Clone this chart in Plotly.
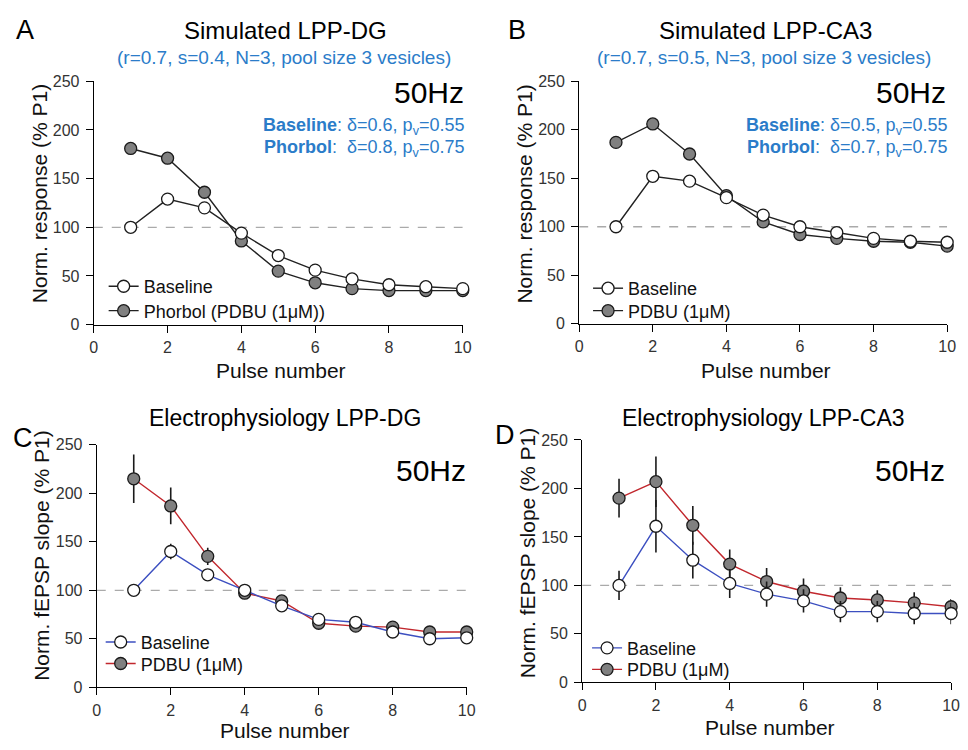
import plotly.graph_objects as go

W, H = 968, 750

pulses = [1, 2, 3, 4, 5, 6, 7, 8, 9, 10]
x_ticks = [0, 2, 4, 6, 8, 10]
y_ticks = [0, 50, 100, 150, 200, 250]
ref_level = 100

# Panel A - simulated LPP-DG
a_base = [100, 129, 120, 94, 71, 56, 47, 41, 39, 37]
a_phor = [181, 171, 136, 86, 55, 43, 37, 35, 35, 35]
# Panel B - simulated LPP-CA3
b_base = [100, 152, 147, 130, 112, 100, 94, 88, 85, 84]
b_pdbu = [187, 206, 175, 132, 105, 92, 88, 85, 84, 80]
# Panel C - electrophysiology LPP-DG
c_base = [100, 140, 116, 100, 84, 70, 67, 57, 50, 51]
c_base_err = [0, 8, 5, 5, 4, 3, 3, 3, 3, 3]
c_pdbu = [215, 187, 135, 97, 89, 66, 63, 62, 57, 57]
c_pdbu_err = [25, 19, 9, 6, 5, 3, 3, 3, 3, 3]
# Panel D - electrophysiology LPP-CA3
d_base = [100, 161, 126, 102, 91, 84, 73, 73, 71, 71]
d_base_err = [15, 27, 19, 15, 13, 12, 11, 11, 11, 11]
d_pdbu = [190, 207, 162, 122, 104, 94, 87, 85, 82, 78]
d_pdbu_err = [20, 26, 20, 15, 14, 13, 11, 10, 11, 8]

FONT = "Liberation Sans, Arial, sans-serif"
BLUE_TXT = "#2b7cc9"
LINE_BLUE = "#3c4fc0"
LINE_RED = "#c1272d"
GRAY = "#808080"
EDGE = "#1a1a1a"


def px(x):
    return x / W


def py(y):
    return 1 - y / H


fig = go.Figure()


def add_pair(xa, ya, base, treat, base_name, treat_name, leg_b, leg_t, base_line, treat_line,
             base_err=None, treat_err=None):
    err_t = dict(type="data", array=treat_err, visible=True, color=EDGE,
                 thickness=1.6, width=0) if treat_err else None
    err_b = dict(type="data", array=base_err, visible=True, color=EDGE,
                 thickness=1.6, width=0) if base_err else None
    fig.add_trace(go.Scatter(
        x=pulses, y=treat, xaxis=xa, yaxis=ya, mode="lines+markers", name=treat_name,
        legend=leg_t, cliponaxis=False,
        line=dict(color=treat_line, width=1.4),
        marker=dict(size=12, color=GRAY, line=dict(color=EDGE, width=1.3)),
        error_y=err_t))
    fig.add_trace(go.Scatter(
        x=pulses, y=base, xaxis=xa, yaxis=ya, mode="lines+markers", name=base_name,
        legend=leg_b, cliponaxis=False,
        line=dict(color=base_line, width=1.4),
        marker=dict(size=12, color="white", line=dict(color=EDGE, width=1.3)),
        error_y=err_b))


add_pair("x", "y", a_base, a_phor, "Baseline", "Phorbol (PDBU (1\u03bcM))", "legend", "legend2",
         "#222222", "#222222")
add_pair("x2", "y2", b_base, b_pdbu, "Baseline", "PDBU (1\u03bcM)", "legend3", "legend4",
         "#222222", "#222222")
add_pair("x3", "y3", c_base, c_pdbu, "Baseline", "PDBU (1\u03bcM)", "legend5", "legend6",
         LINE_BLUE, LINE_RED, c_base_err, c_pdbu_err)
add_pair("x4", "y4", d_base, d_pdbu, "Baseline", "PDBU (1\u03bcM)", "legend7", "legend8",
         LINE_BLUE, LINE_RED, d_base_err, d_pdbu_err)

# panel pixel boxes: (x0, x10, y250, y0)
boxes = {
    "1": (91, 465, 75, 324),
    "2": (583, 956, 75, 323),
    "3": (94, 469, 447, 695),
    "4": (586, 960, 442, 690),
}
ytitles = {"1": "Norm. response (% P1)", "2": "Norm. response (% P1)",
           "3": "Norm. fEPSP slope (% P1)", "4": "Norm. fEPSP slope (% P1)"}
# axis-title pixel positions: (y-title x, y-title y, x-title y)
title_pos = {"1": (36, 190, 371), "2": (528, 190, 371),
             "3": (38, 560, 739), "4": (531, 557, 736)}

axis_common = dict(showline=True, linecolor="black", linewidth=1.2, ticks="outside",
                   ticklen=7, tickcolor="black", tickwidth=1.2,
                   tickfont=dict(size=16, color="#333333", family=FONT),
                   showgrid=False, zeroline=False, fixedrange=True)

ann = []


def text(x, y, s, size, color="black", xanchor="center", yanchor="middle", angle=0):
    ann.append(dict(x=px(x), y=py(y), xref="paper", yref="paper", text=s, showarrow=False,
                    xanchor=xanchor, yanchor=yanchor, textangle=angle,
                    font=dict(size=size, color=color, family=FONT)))


layout_axes = {}
for k, (x0, x1, yt, yb) in boxes.items():
    suffix = "" if k == "1" else k
    layout_axes["xaxis" + suffix] = dict(
        domain=[px(x0), px(x1)], anchor="y" + suffix, range=[0, 10], tickvals=x_ticks,
        ticklabelstandoff=1, **axis_common)
    layout_axes["yaxis" + suffix] = dict(
        domain=[py(yb), py(yt)], anchor="x" + suffix, range=[0, 250], tickvals=y_ticks,
        ticklabelstandoff=3, **axis_common)
    tx, ty, xty = title_pos[k]
    text(tx, ty, ytitles[k], 21, "#111", angle=-90)
    text((x0 + x1) / 2 + 3, xty, "Pulse number", 21, "#111")

shapes = []
for k in boxes:
    suffix = "" if k == "1" else k
    shapes.append(dict(type="line", xref="x" + suffix, yref="y" + suffix, x0=0, x1=10,
                       y0=ref_level, y1=ref_level, layer="below",
                       line=dict(color="#aaaaaa", width=1.3, dash="dash")))

NB = "\u00a0"
# panel letters
text(21, 23, "A", 27)
text(520, 23, "B", 27)
text(19, 440, "C", 27)
text(508, 437, "D", 27)
# titles
text(285, 23, "Simulated LPP-DG", 24)
text(772, 23, "Simulated LPP-CA3", 24)
text(284, 51, "(r=0.7, s=0.4, N=3, pool size 3 vesicles)", 19, BLUE_TXT)
text(770, 51, "(r=0.7, s=0.5, N=3, pool size 3 vesicles)", 19, BLUE_TXT)
text(285, 420, "Electrophysiology LPP-DG", 23)
text(770, 420, "Electrophysiology LPP-CA3", 23)
# 50Hz
text(468, 86, "50Hz", 30, xanchor="right")
text(957, 86, "50Hz", 30, xanchor="right")
text(470, 473, "50Hz", 30, xanchor="right")
text(956, 473, "50Hz", 30, xanchor="right")
# parameters
text(468, 121, "<b>Baseline</b>: \u03b4=0.6, p<sub>v</sub>=0.55", 18, BLUE_TXT, xanchor="right")
text(468, 144, "<b>Phorbol</b>:" + NB + NB + "\u03b4=0.8, p<sub>v</sub>=0.75", 18, BLUE_TXT,
     xanchor="right")
text(958, 121, "<b>Baseline</b>: \u03b4=0.5, p<sub>v</sub>=0.55", 18, BLUE_TXT, xanchor="right")
text(958, 144, "<b>Phorbol</b>:" + NB + NB + "\u03b4=0.7, p<sub>v</sub>=0.75", 18, BLUE_TXT,
     xanchor="right")


def legend_at(mx, my):
    # mx, my: pixel position of the legend marker centre
    return dict(x=px(mx - 21), y=py(my), xanchor="left", yanchor="middle",
                bgcolor="rgba(0,0,0,0)",
                font=dict(size=18, color="#111", family=FONT), itemwidth=30)


fig.update_layout(
    width=W, height=H, margin=dict(l=0, r=0, t=0, b=0),
    paper_bgcolor="white", plot_bgcolor="white",
    font=dict(family=FONT),
    showlegend=True,
    legend=legend_at(122, 285), legend2=legend_at(122, 310),
    legend3=legend_at(613, 287), legend4=legend_at(613, 310),
    legend5=legend_at(119, 649), legend6=legend_at(119, 671),
    legend7=legend_at(612, 655), legend8=legend_at(612, 677),
    shapes=shapes, annotations=ann,
    **layout_axes,
)

fig.write_html(
    "out.html",
    config={"displayModeBar": False},
    post_script="document.body.style.margin='0';document.body.style.overflow='hidden';",
)
